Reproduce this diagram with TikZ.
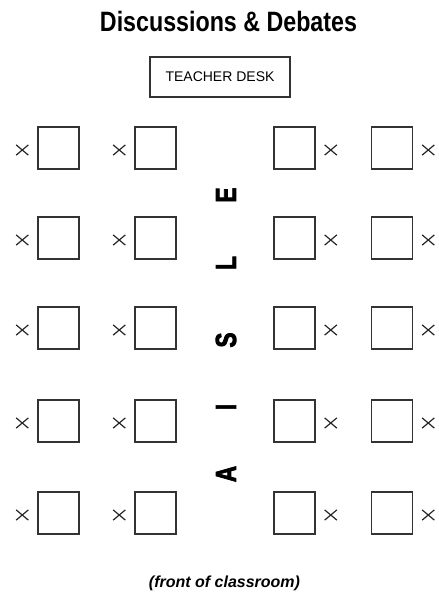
\documentclass[tikz,border=0pt]{standalone}
\usepackage{fontspec}
\setmainfont{Liberation Sans}
\newfontfamily\aislefont{Liberation Sans Bold}[FakeBold=3]
\usetikzlibrary{positioning,shapes.misc}

\tikzset{
  desk/.style={draw=black!80, line width=1.3pt, minimum width=41pt, minimum height=42pt, inner sep=0pt},
  seat/.style={cross out, draw=black!85, line width=1.2pt, minimum width=11pt, minimum height=9pt, inner sep=0pt},
  aisleletter/.style={font=\fontsize{29}{29}\aislefont, rotate=90, inner sep=0pt},
}

\begin{document}
\begin{tikzpicture}[x=1pt,y=-1pt]
  \useasboundingbox (0,0) rectangle (439,600);

  \node (title) at (228.5,21) {\fontsize{28}{28}\selectfont\bfseries\scalebox{0.83}[1]{Discussions \& Debates}};
  \node[draw=black!80, line width=1.2pt, minimum width=140pt, minimum height=40pt] (teacher) at (220,77)
    {\fontsize{14}{14}\selectfont TEACHER DESK};

  % desks in rows, seats on the outer side of each half
  \foreach \r/\y in {1/148,2/238,3/328,4/421,5/513} {
    \node[desk] (l1-\r) at (58.5,\y) {};
    \node[desk] (l2-\r) at (155.5,\y) {};
    \node[desk] (r1-\r) at (294.5,\y) {};
    \node[desk] (r2-\r) at (392,\y) {};
    \node[seat, left=9pt of l1-\r, yshift=-2pt] (sl1-\r) {};
    \node[seat, left=9pt of l2-\r, yshift=-2pt] (sl2-\r) {};
    \node[seat, right=9pt of r1-\r, yshift=-2pt] (sr1-\r) {};
    \node[seat, right=9pt of r2-\r, yshift=-2pt] (sr2-\r) {};
  }

  % aisle, read from the bottom up
  \foreach \ch/\y in {A/474,I/407,S/340,L/263,E/195}
    \node[aisleletter] (aisle-\ch) at (226,\y) {\scalebox{0.78}[1]{\ch}};

  \node (front) at (224.5,583) {\fontsize{16}{16}\selectfont\bfseries\itshape (front of classroom)};
\end{tikzpicture}
\end{document}
